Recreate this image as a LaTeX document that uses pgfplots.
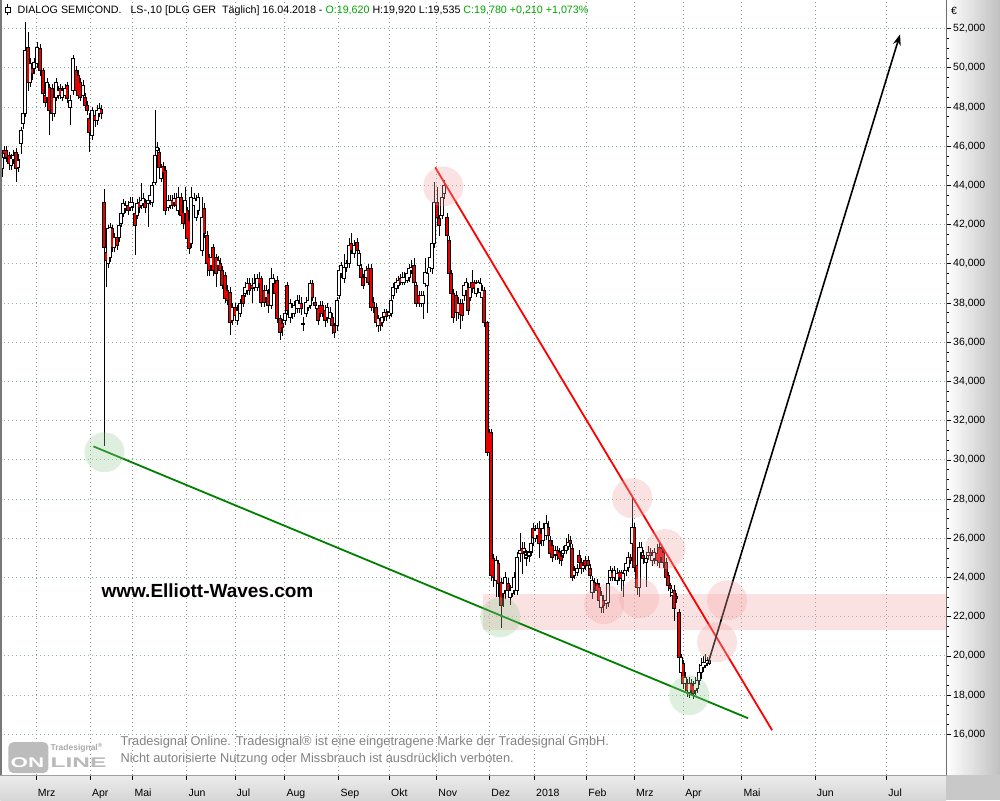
\documentclass[border=0pt]{standalone}
\usepackage{fontspec}
\setmainfont{Liberation Sans}
\usepackage{graphicx}
\usepackage{pgfplots}
\pgfplotsset{compat=1.18}
\usepackage{pgfplotstable}
\usetikzlibrary{arrows.meta,backgrounds}
\definecolor{tgreen}{RGB}{0,165,0}
\definecolor{lgreen}{RGB}{0,128,0}
\definecolor{candlered}{RGB}{235,0,0}
\definecolor{gridv}{RGB}{150,150,150}
\definecolor{gridh}{RGB}{140,185,140}
\definecolor{pinkc}{RGB}{245,165,165}
\definecolor{greenc}{RGB}{150,205,150}
\definecolor{stripR}{RGB}{192,192,192}
\definecolor{stripT}{RGB}{236,236,236}
\definecolor{stripB}{RGB}{214,214,214}
\definecolor{cornerc}{RGB}{200,200,200}
\definecolor{frameL}{RGB}{120,120,120}
\definecolor{frameR}{RGB}{110,110,110}
\definecolor{frameB}{RGB}{160,160,160}
\definecolor{copyc}{RGB}{130,130,130}
\definecolor{logobox}{RGB}{188,188,188}
\definecolor{logotext}{RGB}{185,185,185}
\definecolor{logosmall}{RGB}{170,170,170}

\pgfplotstableread{
x o h l c
2 44.87 45.60 44.41 45.43
4 45.79 46.00 45.40 45.64
6 45.80 46.00 45.20 45.40
9 45.53 45.70 44.80 45.13
11 45.00 45.60 44.80 45.40
13 45.30 45.80 45.10 45.55
16 45.69 45.90 44.16 44.87
18 44.90 45.60 44.70 45.30
21 46.15 47.00 45.60 46.81
23 47.17 47.90 46.90 47.68
25 47.68 52.32 47.50 50.89
28 51.04 51.81 48.80 49.26
30 49.26 50.50 49.00 50.23
32 49.97 50.30 49.40 49.72
34 49.97 50.50 49.70 50.28
37 50.23 51.30 50.00 51.04
40 50.99 51.20 49.60 49.87
43 49.87 50.00 48.50 48.70
45 48.60 48.80 48.00 48.24
47 48.49 49.50 48.30 49.26
49 49.00 49.20 46.56 47.83
52 48.95 49.20 47.30 47.68
54 47.68 48.70 47.50 48.49
56 48.49 49.50 48.30 49.26
58 48.60 49.10 48.40 48.85
60 48.95 49.20 48.40 48.60
62 48.50 49.10 48.30 48.85
65 48.60 49.20 48.40 48.95
67 49.10 49.30 48.20 48.44
70 47.98 48.60 47.07 48.34
73 48.85 50.64 48.60 50.48
76 49.87 50.10 48.60 48.85
78 49.60 49.90 48.40 48.60
80 49.26 49.50 48.30 48.49
83 48.60 49.40 48.40 49.10
85 48.49 48.70 47.80 48.08
87 48.08 48.30 47.60 47.83
89 47.42 47.70 45.69 46.71
92 46.56 48.00 46.30 47.83
95 47.57 47.80 47.00 47.32
97 47.32 48.10 47.10 47.83
99 47.68 48.20 47.50 47.93
101 47.88 48.10 47.40 47.68
104 43.14 43.80 30.69 40.84
106 40.59 40.80 38.80 40.18
108 40.03 42.00 39.80 41.81
110 40.33 42.10 40.10 41.86
112 41.81 42.00 40.60 40.84
114 40.84 41.60 40.60 41.35
117 41.35 41.60 40.70 40.94
119 41.35 42.20 41.10 41.96
121 42.07 42.80 41.90 42.58
123 42.58 43.30 42.40 43.09
125 42.83 43.20 42.60 42.99
128 42.99 43.20 42.50 42.73
130 42.88 43.40 42.70 43.14
132 42.90 43.40 42.70 43.14
135 42.58 42.80 40.44 41.96
137 42.48 43.30 42.30 43.09
139 43.14 43.40 42.60 42.88
141 42.99 44.11 42.80 43.24
143 43.10 43.60 42.90 43.35
145 43.14 43.30 42.60 42.88
148 43.09 43.50 41.86 43.24
150 43.24 43.70 43.00 43.50
152 43.14 44.20 42.90 44.00
155 44.16 47.83 44.00 45.54
157 45.79 46.20 45.50 45.94
159 45.69 45.90 44.70 44.92
161 44.36 45.10 44.20 44.92
163 44.97 45.20 44.40 44.67
165 44.77 45.00 42.50 42.73
168 42.88 43.50 42.70 43.24
170 42.99 43.50 42.80 43.24
172 43.24 43.50 42.80 42.99
174 43.14 43.60 42.90 43.34
176 43.34 43.60 42.80 42.99
178 42.73 43.90 42.50 43.39
181 43.39 43.60 42.30 42.48
183 42.63 42.80 41.80 42.07
185 42.58 43.90 42.40 43.24
187 42.73 42.90 41.10 41.30
189 42.22 42.40 40.50 40.79
191 41.05 43.90 40.80 43.39
194 42.99 43.60 42.80 43.34
196 42.37 43.50 42.20 43.24
198 42.73 43.60 42.50 43.39
202 40.69 43.40 40.40 42.37
204 42.83 43.10 41.30 41.56
207 41.46 41.70 39.40 40.03
209 40.33 40.50 39.40 39.67
211 39.93 40.60 39.70 40.33
213 40.84 41.00 39.40 39.67
216 40.33 40.50 38.80 39.52
218 39.93 40.40 39.70 40.18
220 40.03 40.30 39.40 39.67
222 39.67 39.90 38.70 38.91
225 39.41 39.60 38.00 38.24
227 38.65 38.90 37.90 38.14
230 38.55 38.80 36.36 37.02
232 37.12 38.00 36.90 37.78
235 37.78 38.00 37.10 37.38
237 37.12 37.90 36.90 37.63
240 37.48 38.20 37.30 37.99
243 38.39 38.60 37.80 37.99
245 38.50 39.10 38.30 38.80
247 38.65 39.30 38.40 39.00
249 39.00 39.30 38.40 38.65
252 38.90 39.30 38.00 38.75
254 38.80 39.50 38.60 39.00
257 38.80 39.50 38.60 39.26
259 39.26 39.60 38.80 39.00
261 39.26 39.40 37.80 38.04
264 38.65 38.90 37.80 38.04
266 38.30 38.90 38.10 38.65
268 38.50 38.70 37.50 37.89
271 37.89 39.80 37.70 39.26
273 39.00 39.50 38.80 39.26
275 39.00 39.20 38.30 38.50
277 39.16 39.40 37.00 37.22
280 37.22 37.40 36.10 36.51
282 36.97 37.20 36.30 36.76
285 37.12 37.70 36.90 37.48
287 38.90 39.10 37.40 37.63
290 37.27 38.20 37.00 37.99
292 37.48 38.00 37.20 37.78
294 37.48 38.10 37.30 37.89
297 37.73 38.40 37.50 38.14
299 37.73 38.40 37.50 38.00
301 38.00 38.30 37.40 37.73
303 36.90 37.30 36.60 36.95
306 37.48 38.30 37.30 38.04
308 37.78 38.50 37.60 38.14
310 37.89 39.20 37.70 39.00
312 39.00 39.20 38.10 38.29
315 38.04 38.30 37.70 37.89
318 37.73 37.90 36.90 37.12
320 37.89 38.10 37.30 37.48
322 37.89 38.10 37.30 37.48
325 37.63 37.90 36.80 37.12
327 37.27 38.00 37.00 37.78
330 37.22 37.80 37.00 37.53
332 37.27 37.50 36.40 36.86
334 36.86 37.00 36.20 36.51
337 36.86 38.30 36.60 38.14
339 38.39 39.90 38.20 39.67
341 39.52 40.10 39.30 39.93
344 39.26 40.50 39.00 39.82
346 39.80 40.20 39.60 40.00
349 40.03 41.30 39.80 40.94
351 41.05 41.60 40.50 40.69
354 40.54 41.20 40.30 40.94
357 41.10 41.30 40.50 40.69
359 39.93 40.70 39.70 40.54
361 39.77 40.00 39.10 39.31
363 39.31 39.50 38.70 38.91
366 39.31 39.90 39.10 39.67
368 39.77 40.00 38.90 39.06
371 39.77 40.00 37.60 37.78
373 38.04 38.30 37.50 37.78
376 37.78 38.00 36.80 37.02
378 36.86 37.40 36.50 37.22
380 37.10 37.30 36.60 36.86
382 37.02 37.50 36.80 37.27
384 37.30 37.70 37.10 37.50
386 37.50 37.70 37.10 37.30
389 37.35 37.80 37.20 37.55
391 37.48 38.40 37.30 38.14
393 38.39 39.00 38.20 38.80
396 38.75 39.30 38.50 39.06
398 38.90 39.40 38.70 39.16
400 39.26 39.50 38.90 39.06
402 39.06 39.60 38.90 39.31
404 39.06 39.60 38.90 39.31
407 39.16 39.80 39.00 39.52
409 39.31 40.00 39.10 39.77
411 39.67 40.20 39.50 39.82
414 39.93 40.30 38.90 39.06
416 38.90 39.10 37.80 37.99
419 38.39 38.60 37.80 37.99
421 37.99 38.60 37.80 38.39
423 38.00 38.60 37.20 38.40
425 39.00 40.30 38.80 39.57
427 38.90 39.80 37.50 39.52
430 39.82 40.60 39.60 40.33
432 39.77 41.60 39.50 41.05
434 41.05 44.16 40.80 43.14
437 43.14 43.90 42.10 42.37
439 42.32 42.50 41.40 41.96
442 42.48 43.90 42.30 43.39
444 43.60 44.30 43.30 44.00
447 42.37 42.60 41.20 41.46
449 41.20 41.40 39.30 39.52
451 39.52 39.70 38.30 38.50
453 38.50 38.70 37.00 37.27
456 38.40 38.60 37.10 37.50
458 37.50 38.30 37.20 38.00
460 38.00 38.20 36.70 37.40
462 37.99 38.20 37.10 37.38
464 38.39 39.10 38.10 38.90
466 38.65 39.30 38.40 39.06
468 38.80 39.00 37.40 37.63
470 38.30 39.00 38.10 38.80
472 39.06 39.70 38.50 38.75
474 39.06 39.20 38.60 38.80
476 38.50 39.20 38.30 39.00
478 38.75 39.20 38.50 39.06
480 38.55 39.30 38.30 39.00
482 38.30 38.90 38.10 38.65
484 38.65 38.80 36.80 37.02
487 37.02 37.10 30.20 30.39
489 31.41 31.60 28.45 30.39
491 31.41 31.60 23.80 24.12
493 24.98 25.20 23.50 24.02
496 23.86 25.10 23.00 24.88
498 24.73 24.90 23.00 23.71
501 23.76 24.00 21.41 22.59
503 23.20 23.90 22.50 23.70
505 23.35 24.30 22.90 24.02
508 23.70 24.00 23.00 23.35
510 23.00 23.60 22.60 23.35
512 23.20 23.80 23.00 23.50
514 23.35 24.30 23.10 24.00
517 23.35 25.30 23.10 25.03
520 25.24 26.26 24.80 25.39
522 25.49 25.80 24.20 25.24
524 25.30 25.80 25.10 25.50
526 25.00 25.40 24.60 25.15
529 25.10 25.50 24.80 25.30
531 25.30 26.00 25.10 25.75
533 26.51 26.80 25.60 26.05
535 26.00 26.70 25.80 26.40
537 26.15 26.80 25.90 26.51
539 26.51 26.90 25.00 25.75
541 26.26 26.50 25.60 25.90
543 25.90 26.80 25.60 26.51
546 26.15 27.20 25.90 26.77
548 26.56 26.90 25.90 26.15
550 25.90 26.10 25.00 25.24
552 25.65 25.90 24.80 25.03
555 25.15 25.60 24.90 25.39
557 25.39 25.60 24.90 25.15
559 25.30 25.50 24.70 24.98
561 25.10 25.30 24.60 24.88
563 25.24 25.60 25.00 25.39
566 25.39 26.00 25.20 25.65
568 25.60 26.20 25.40 25.80
570 25.90 26.10 25.50 25.75
572 25.49 25.70 23.80 24.02
574 24.12 24.60 23.90 24.37
577 24.27 24.70 24.10 24.47
579 25.13 25.40 24.60 24.78
581 24.78 25.00 24.20 24.47
583 24.47 24.90 24.30 24.63
585 24.88 25.10 24.40 24.63
588 24.88 25.10 24.40 24.63
590 24.47 24.70 23.90 24.12
592 23.25 24.10 22.90 23.86
594 23.76 24.00 23.20 23.50
597 23.70 23.90 23.00 23.35
599 23.50 23.70 22.60 22.84
601 22.48 23.30 22.20 23.10
603 22.84 23.10 22.20 22.59
606 22.69 23.20 22.40 22.84
608 22.74 24.00 22.50 23.71
610 24.02 24.60 23.80 24.37
612 24.27 24.50 23.80 24.02
614 24.02 24.60 23.80 24.37
617 23.86 24.50 23.60 24.22
619 24.27 24.40 23.80 24.02
621 24.27 24.40 23.30 23.96
623 23.86 24.40 23.00 24.22
626 24.37 25.00 24.10 24.73
628 24.53 25.30 24.30 25.03
630 25.03 25.20 24.70 24.88
632 25.75 28.09 25.50 26.56
634 26.56 26.80 24.30 24.53
637 24.63 24.90 23.10 23.50
639 23.50 25.80 23.00 25.54
641 25.29 25.80 25.00 25.54
643 25.13 25.40 24.70 24.98
646 24.78 25.30 23.50 24.98
648 25.13 25.60 24.90 25.29
650 25.29 25.50 24.90 25.13
652 24.88 25.40 24.60 25.13
654 24.98 25.50 24.70 25.29
657 25.24 25.70 24.60 24.88
659 25.54 25.80 24.50 24.78
661 25.50 25.70 24.80 25.03
663 25.29 25.50 24.50 24.78
666 24.78 25.00 23.80 24.02
668 24.12 24.30 23.30 23.60
670 23.60 23.70 23.00 23.45
672 23.10 23.40 22.90 23.25
674 23.35 23.60 21.80 22.43
676 23.05 23.20 22.70 22.95
679 22.23 22.40 19.70 19.93
681 19.17 20.10 18.80 19.93
683 19.63 19.80 18.30 18.61
685 18.61 19.20 18.30 18.92
687 18.61 18.80 17.90 18.25
689 18.15 18.90 17.85 18.61
691 18.61 18.80 18.00 18.25
693 18.50 18.70 17.80 18.10
695 18.25 18.90 18.00 18.61
697 18.35 19.00 18.10 18.76
699 18.76 19.60 18.50 19.17
701 19.17 19.90 18.80 19.53
703 19.43 20.00 19.20 19.68
705 19.53 20.10 19.40 19.68
707 19.60 19.92 19.50 19.78
709 19.62 19.92 19.54 19.78
}\ohlc

\pgfplotsset{candle/.style={black, only marks, mark=none, forget plot,
  mark options={opacity=0, draw opacity=0, fill opacity=0, scale=0.01}}}

\begin{document}
\begin{tikzpicture}
\begin{axis}[
  name=ax, scale only axis,
  width=946pt, height=775pt,
  xmin=0, xmax=946, ymin=13.92, ymax=53.44,
  axis line style={draw=none},
  xtick={35.7,90,132.5,186.5,234.7,284.5,338.5,389.2,436.5,489.5,534.3,586.5,634.3,683.5,741.7,815,886.7},
  xticklabels={Mrz,Apr,Mai,Jun,Jul,Aug,Sep,Okt,Nov,Dez,2018,Feb,Mrz,Apr,Mai,Jun,Jul},
  ytick={16,18,...,52},
  minor y tick num=3,
  xtick pos=left, ytick pos=right, yticklabel pos=right,
  tick align=outside,
  major tick length=5pt, minor tick length=3pt,
  tick style={black, line width=0.8pt},
  xmajorgrids, ymajorgrids,
  major x grid style={gridv, line width=0.9pt, dash pattern=on 1pt off 3pt},
  major y grid style={gridh, line width=0.9pt, dash pattern=on 1pt off 3pt},
  ticklabel style={font=\fontsize{10.5}{12}\selectfont},
  yticklabel style={anchor=west, inner sep=0pt, xshift=2pt,
    /pgf/number format/fixed, /pgf/number format/fixed zerofill,
    /pgf/number format/precision=3, /pgf/number format/use comma,
    /pgf/number format/1000 sep={}, /pgf/number format/assume math mode=true},
  xticklabel style={anchor=north west, inner sep=0pt, xshift=1.5pt, yshift=-9pt},
  clip=true,
]
% resistance band and highlight circles
\addplot[draw=none, fill=pinkc, fill opacity=0.32, forget plot]
  coordinates {(483,21.31) (946,21.31) (946,23.15) (483,23.15) (483,21.31)};
\addplot[only marks, mark=*, mark size=20pt, forget plot, color=pinkc,
  mark options={draw=pinkc, draw opacity=0, fill=pinkc, fill opacity=0.32}]
  coordinates {(443,43.95) (632,28.05) (665,25.45) (604,22.64) (639,22.94) (727,22.84) (717,20.70)};
\addplot[only marks, mark=*, mark size=20pt, forget plot, color=greenc,
  mark options={draw=greenc, draw opacity=0, fill=greenc, fill opacity=0.3}]
  coordinates {(104,30.39) (500,21.97) (689,18.00)};
% wicks
\addplot[candle,
  error bars/.cd, y dir=both, y explicit, error mark=none,
  error bar style={line width=1pt, black, opacity=1}]
  table[x=x, y expr={(\thisrow{h}+\thisrow{l})/2}, y error expr={(\thisrow{h}-\thisrow{l})/2}] {\ohlc};
% body outlines
\addplot[candle,
  error bars/.cd, y dir=both, y explicit, error mark=none,
  error bar style={line width=4pt, black, opacity=1}]
  table[x=x, y expr={(\thisrow{o}+\thisrow{c})/2}, y error expr={abs(\thisrow{c}-\thisrow{o})/2+0.03}] {\ohlc};
% up bodies (white)
\addplot[candle, restrict y to domain=0:100,
  error bars/.cd, y dir=both, y explicit, error mark=none,
  error bar style={line width=2pt, white, opacity=1}]
  table[x=x, y expr={\thisrow{c}>=\thisrow{o} ? (\thisrow{o}+\thisrow{c})/2 : -50}, y error expr={max(abs(\thisrow{c}-\thisrow{o})/2-0.03,0)}] {\ohlc};
% down bodies (red)
\addplot[candle, restrict y to domain=0:100,
  error bars/.cd, y dir=both, y explicit, error mark=none,
  error bar style={line width=2pt, candlered, opacity=1}]
  table[x=x, y expr={\thisrow{c}<\thisrow{o} ? (\thisrow{o}+\thisrow{c})/2 : -50}, y error expr={max(abs(\thisrow{c}-\thisrow{o})/2-0.03,0)}] {\ohlc};
% trend lines
\addplot[red, line width=1.8pt, forget plot] coordinates {(435,44.92) (772,16.21)};
\addplot[lgreen, line width=1.8pt, forget plot] coordinates {(93,30.69) (748,16.82)};
\addplot[black, line width=1.6pt, forget plot, -{Stealth[length=11pt,width=8pt]}]
  coordinates {(708,19.63) (733,23.86) (900,51.71)};
\end{axis}
\begin{scope}[shift={(ax.south west)}, yshift=-25pt, x=1pt, y=1pt]
\begin{scope}[on background layer]
\fill[white] (0,0) rectangle (1000,800);
\shade[left color=white, right color=stripR] (946,25) rectangle (1000,800);
\shade[top color=stripT, bottom color=stripB] (0,0) rectangle (946,25);
\fill[cornerc] (946,0) rectangle (1000,25);
\end{scope}
\path[use as bounding box] (0,0) rectangle (1000,800);
% frame lines
\draw[frameL, line width=1.5pt] (0.75,25) -- (0.75,800);
\draw[frameR, line width=1pt] (946.5,25) -- (946.5,800);
\draw[frameB, line width=1pt] (0,25) -- (946.5,25);
% title
\draw[black, line width=0.8pt] (7,785) -- (7,796);
\draw[black, line width=0.8pt, fill=white] (4.5,788) rectangle (9.5,793);
\node[anchor=west, inner sep=0pt, font=\fontsize{10.7}{12}\selectfont] at (17,790)
  {DIALOG SEMICOND.\ \ \ LS-,10 [DLG GER\ \ Täglich] 16.04.2018 - \textcolor{tgreen}{O:19,620} H:19,920 L:19,535 \textcolor{tgreen}{C:19,780 +0,210 +1,073\%}};
\node[anchor=west, inner sep=0pt, font=\fontsize{10.5}{12}\selectfont] at (951,790) {€};
% watermark
\node[anchor=west, inner sep=0pt, font=\bfseries\fontsize{19}{22}\selectfont] at (101,209) {www.Elliott-Waves.com};
% copyright
\node[anchor=west, inner sep=0pt, font=\fontsize{12.8}{15}\selectfont, text=copyc] at (120,58) {Tradesignal Online. Tradesignal® ist eine eingetragene Marke der Tradesignal GmbH.};
\node[anchor=west, inner sep=0pt, font=\fontsize{12.8}{15}\selectfont, text=copyc] at (120,41) {Nicht autorisierte Nutzung oder Missbrauch ist ausdrücklich verboten.};
% logo
\fill[logobox, rounded corners=5pt] (8,27) rectangle (48,58);
\node[anchor=south west, inner sep=0pt, font=\bfseries\fontsize{14}{14}\selectfont, white] at (10,32) {\scalebox{1.6}[1]{ON}};
\node[anchor=south west, inner sep=0pt, font=\bfseries\fontsize{14}{14}\selectfont, text=logotext] at (50,32) {\scalebox{1.75}[1]{LINE}};
\node[anchor=south west, inner sep=0pt, font=\bfseries\fontsize{8.5}{9}\selectfont, text=logosmall] at (50,48) {Tradesignal\textsuperscript{®}};
\end{scope}
\end{tikzpicture}
\end{document}
